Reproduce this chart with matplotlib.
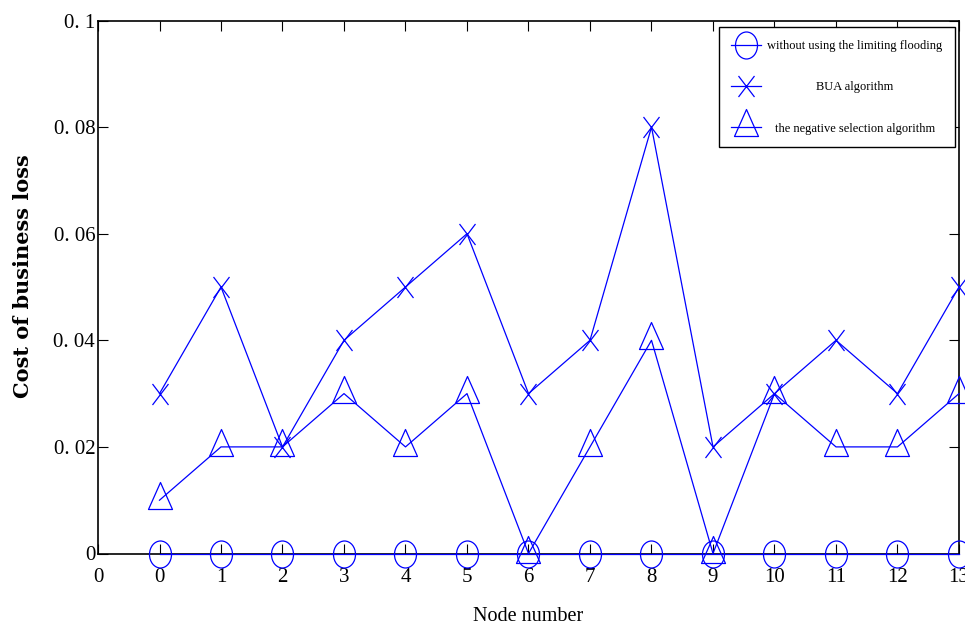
import matplotlib
matplotlib.use('Agg')
import matplotlib.pyplot as plt
import numpy as np
from matplotlib.path import Path
from matplotlib.transforms import Affine2D

# ---------------- data ----------------
nodes = list(range(14))                      # node numbers 0..13
x_ticklabels = ['0', '0', '1', '2', '3', '4', '5', '6', '7', '8', '9',
                '10', '11', '12', '13']
y_ticks = [0.0, 0.02, 0.04, 0.06, 0.08, 0.1]
y_ticklabels = ['0', '0. 02', '0. 04', '0. 06', '0. 08', '0. 1']

without_limiting = [0.0, 0.0, 0.0, 0.0, 0.0, 0.0, 0.0, 0.0, 0.0, 0.0, 0.0, 0.0, 0.0, 0.0]
bua = [0.03, 0.05, 0.02, 0.04, 0.05, 0.06, 0.03, 0.04, 0.08, 0.02, 0.03, 0.04, 0.03, 0.05]
neg_selection = [0.01, 0.02, 0.02, 0.03, 0.02, 0.03, 0.0, 0.02, 0.04, 0.0, 0.03, 0.02, 0.02, 0.03]

labels = ['without using the limiting flooding', 'BUA algorithm',
          'the negative selection algorithm']

# ---------------- style ----------------
plt.rcParams['font.family'] = ['Liberation Serif', 'DejaVu Serif']
BLUE = '#0000ff'
PX = 72.0 / 100.0  # points per pixel at 100 dpi

# custom (slightly stretched) markers
ellipse = Path.unit_circle().transformed(Affine2D().scale(11, 13.5))
cross = Path([(-8, -10.5), (8, 10.5), (-8, 10.5), (8, -10.5)],
             [Path.MOVETO, Path.LINETO, Path.MOVETO, Path.LINETO])
tri = Path([(0, 18), (-12, -9), (12, -9), (0, 18)],
           [Path.MOVETO, Path.LINETO, Path.LINETO, Path.CLOSEPOLY])

fig = plt.figure(figsize=(9.65, 6.33), dpi=100)
ax = fig.add_axes([98 / 965, 1 - 553.5 / 633, 861 / 965, 533 / 633])

xpos = np.arange(1, len(nodes) + 1)
common = dict(color=BLUE, lw=0.9, mfc='none', mec=BLUE, mew=0.9,
              clip_on=False, zorder=3)
ax.plot(xpos, without_limiting, marker=ellipse, ms=27 * PX, label=labels[0], **common)
ax.plot(xpos, bua, marker=cross, ms=21 * PX, label=labels[1], **common)
ax.plot(xpos, neg_selection, marker=tri, ms=36 * PX, label=labels[2], **common)

ax.set_xlim(0, 14)
ax.set_ylim(0, 0.1)
ax.set_xticks(np.arange(0, 15))
ax.set_xticklabels(x_ticklabels)
ax.set_yticks(y_ticks)
ax.set_yticklabels(y_ticklabels)

ax.tick_params(direction='in', length=7, width=0.8, top=True, right=True,
               labelsize=15, colors='black')
ax.tick_params(axis='x', pad=10.5)
ax.tick_params(axis='y', pad=2)
for s in ax.spines.values():
    s.set_linewidth(1.2)
    s.set_color('black')

ax.set_xlabel('Node number', fontsize=14.5, labelpad=14)
ax.set_ylabel('Cost of business loss', fontsize=15, fontweight='bold',
              family='DejaVu Serif')
ax.yaxis.set_label_coords(-0.0755, 0.52)

leg = ax.legend(loc='upper right', bbox_to_anchor=(0.9954, 0.9869),
                borderaxespad=0, fontsize=9, handlelength=2.4,
                handletextpad=0.5, labelspacing=2.35, borderpad=1.0,
                fancybox=False, framealpha=1, edgecolor='black')
leg.get_frame().set_linewidth(1.0)

# center the legend texts in their column
fig.canvas.draw()
texts = leg.get_texts()
widths = [t.get_window_extent().width for t in texts]
W = max(widths)
for t, w in zip(texts, widths):
    t.set_transform(Affine2D().translate((W - w) / 2.0, 0) + t.get_transform())

fig.savefig('out.png', dpi=100)
